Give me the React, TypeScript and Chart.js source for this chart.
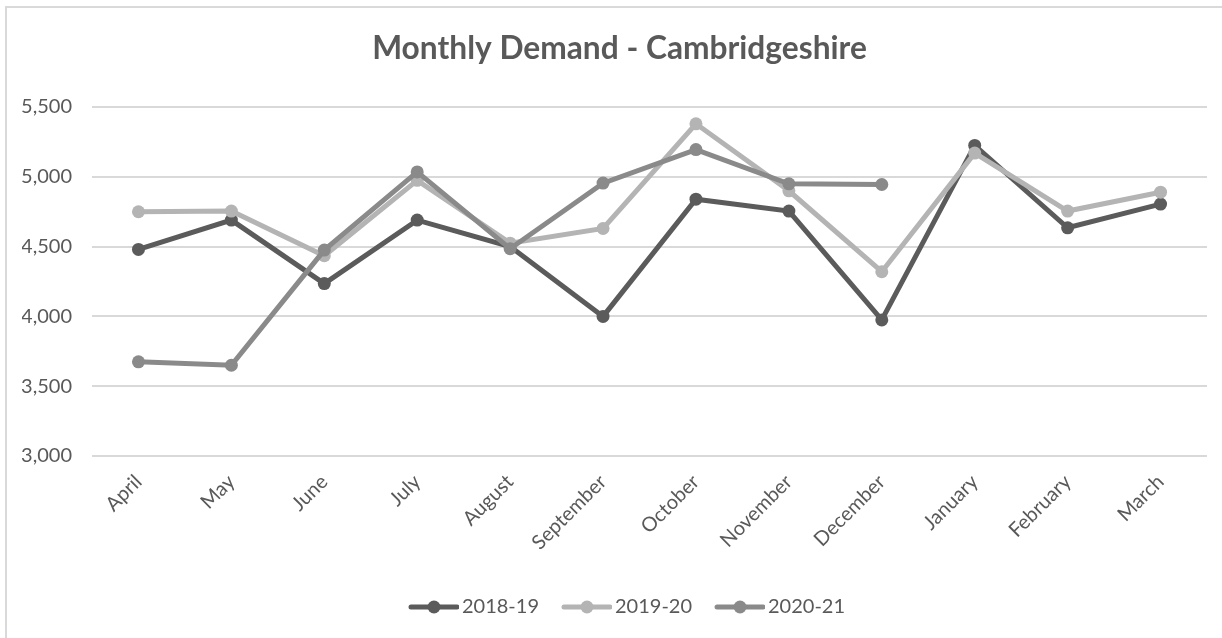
import React, { useEffect, useRef } from "react";
import { Chart, registerables } from "chart.js";

Chart.register(...registerables);

const months = [
  "April", "May", "June", "July", "August", "September",
  "October", "November", "December", "January", "February", "March",
];
const demand2018 = [4480, 4690, 4235, 4690, 4500, 4000, 4840, 4755, 3975, 5225, 4635, 4805];
const demand2019 = [4750, 4755, 4435, 4975, 4525, 4630, 5380, 4900, 4320, 5170, 4755, 4890];
const demand2020 = [3675, 3650, 4475, 5035, 4485, 4955, 5195, 4950, 4945, null, null, null];
const seriesNames = ["2018-19", "2019-20", "2020-21"];
const seriesColors = ["#5b5b5b", "#b4b4b4", "#8a8a8a"];
const yMin = 3000;
const yMax = 5500;
const yStep = 500;
const titleText = "Monthly Demand - Cambridgeshire";

const FONT = "Lato, 'Open Sans', sans-serif";
const TEXT = "#595959";

function makeMarker(color: string): HTMLCanvasElement {
  const c = document.createElement("canvas");
  c.width = 68;
  c.height = 16;
  const ctx = c.getContext("2d")!;
  ctx.strokeStyle = color;
  ctx.lineWidth = 5;
  ctx.lineCap = "round";
  ctx.beginPath();
  ctx.moveTo(20, 8);
  ctx.lineTo(66, 8);
  ctx.stroke();
  ctx.fillStyle = color;
  ctx.beginPath();
  ctx.arc(43, 8, 6.5, 0, Math.PI * 2);
  ctx.fill();
  return c;
}

const boxShift = {
  id: "boxShift",
  afterLayout(chart: any) {
    const lg = chart.legend;
    if (lg) {
      lg.left += 7;
      lg.right += 7;
    }
    const tt = chart.titleBlock;
    if (tt) {
      tt.left += 5;
      tt.right += 5;
    }
  },
};

export default function App() {
  const ref = useRef<HTMLCanvasElement | null>(null);

  useEffect(() => {
    if (!ref.current) return;
    const series = [demand2018, demand2019, demand2020];
    const markers = seriesColors.map(makeMarker);
    const chart = new Chart(ref.current, {
      type: "line",
      plugins: [boxShift],
      data: {
        labels: months,
        datasets: series.map((d, i) => ({
          label: seriesNames[i],
          data: d,
          borderColor: seriesColors[i],
          backgroundColor: seriesColors[i],
          pointBackgroundColor: seriesColors[i],
          pointBorderColor: seriesColors[i],
          borderWidth: 5,
          pointRadius: 6.5,
          pointHoverRadius: 6.5,
          pointBorderWidth: 0,
          tension: 0,
          spanGaps: false,
          order: 3 - i,
          fill: false,
        })),
      },
      options: {
        animation: false,
        responsive: true,
        maintainAspectRatio: false,
        layout: { padding: { left: 22, right: 15, top: 0, bottom: 11 } },
        plugins: {
          title: {
            display: true,
            text: titleText,
            color: TEXT,
            font: { family: FONT, size: 31.7, weight: "bold" },
            padding: { top: 30, bottom: 39 },
          },
          legend: {
            position: "bottom",
            labels: {
              color: TEXT,
              font: { family: FONT, size: 20 },
              usePointStyle: true,
              pointStyleWidth: 54,
              padding: 12,
              generateLabels: () =>
                seriesNames.map((n, i) => ({
                  text: n,
                  fillStyle: seriesColors[i],
                  strokeStyle: seriesColors[i],
                  lineWidth: 0,
                  pointStyle: markers[i],
                  datasetIndex: i,
                  hidden: false,
                  fontColor: TEXT,
                })),
            },
          },
          tooltip: { enabled: false },
        },
        scales: {
          x: {
            offset: true,
            grid: { display: false, drawTicks: false, offset: true },
            border: { display: false },
            ticks: {
              color: TEXT,
              font: { family: FONT, size: 20 },
              autoSkip: false,
              minRotation: 45,
              maxRotation: 45,
              padding: 14,
            },
            afterFit: (s: any) => {
              s.height = 129;
            },
          },
          y: {
            min: yMin,
            max: yMax,
            grid: { color: "#d9d9d9", lineWidth: 2, drawTicks: false },
            border: { display: false },
            ticks: {
              stepSize: yStep,
              color: TEXT,
              font: { family: FONT, size: 20 },
              padding: 20,
              callback: (v: any) => Number(v).toLocaleString("en-GB"),
            },
            afterFit: (s: any) => {
              s.width = 70;
            },
          },
        },
      },
    });
    return () => chart.destroy();
  }, []);

  return (
    <div style={{ position: "fixed", left: 0, top: 0, width: 1222, height: 638, background: "#fff", overflow: "hidden" }}>
      <div
        style={{
          position: "absolute",
          left: 5,
          top: 6,
          width: 1400,
          height: 800,
          border: "2px solid #d9d9d9",
          boxSizing: "border-box",
        }}
      />
      <div style={{ position: "absolute", left: 0, top: 0, width: 1222, height: 638 }}>
        <canvas ref={ref} />
      </div>
    </div>
  );
}
